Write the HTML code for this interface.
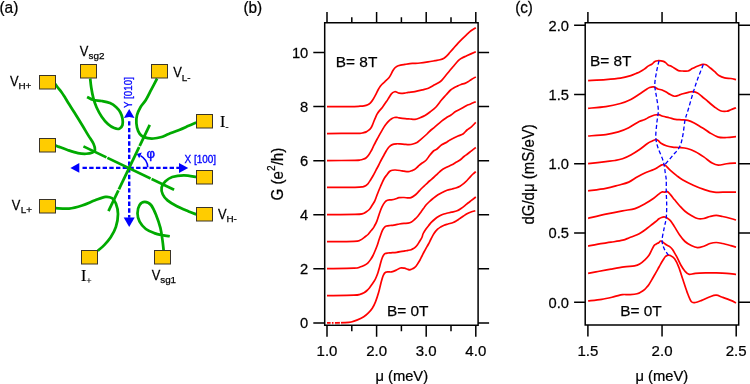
<!DOCTYPE html><html><head><meta charset="utf-8"><style>html,body{margin:0;padding:0;background:#fff;width:750px;height:384px;overflow:hidden}svg{display:block}text{font-family:"Liberation Sans",sans-serif;filter:opacity(1);stroke:#000;stroke-width:0.25px}</style></head><body>
<svg width="750" height="384" viewBox="0 0 750 384">
<rect width="750" height="384" fill="#fff"/>
<text transform="translate(-0.60,12.60) scale(0.94,1)" font-size="16.5">(a)</text>
<text transform="translate(243.40,13.40) scale(0.93,1)" font-size="16.5">(b)</text>
<text transform="translate(515.20,13.10) scale(0.92,1)" font-size="16.5">(c)</text>
<g stroke="#000" stroke-width="1.5" fill="none" stroke-linecap="butt">
<path d="M324.7,22.7 H478.1 V325.35 H324.7 Z"/>
<path d="M327.00,22.7 V12.00 M327.00,325.35 V336.75"/>
<path d="M351.80,22.7 V17.20 M351.80,325.35 V331.35"/>
<path d="M376.60,22.7 V12.00 M376.60,325.35 V336.75"/>
<path d="M401.40,22.7 V17.20 M401.40,325.35 V331.35"/>
<path d="M426.20,22.7 V12.00 M426.20,325.35 V336.75"/>
<path d="M451.00,22.7 V17.20 M451.00,325.35 V331.35"/>
<path d="M475.80,22.7 V12.00 M475.80,325.35 V336.75"/>
<path d="M324.7,322.90 H313.30 M478.1,322.90 H489.10"/>
<path d="M324.7,268.82 H313.30 M478.1,268.82 H489.10"/>
<path d="M324.7,214.74 H313.30 M478.1,214.74 H489.10"/>
<path d="M324.7,160.66 H313.30 M478.1,160.66 H489.10"/>
<path d="M324.7,106.58 H313.30 M478.1,106.58 H489.10"/>
<path d="M324.7,52.50 H313.30 M478.1,52.50 H489.10"/>
</g>
<text transform="translate(308.30,328.10) scale(0.95,1)" font-size="15.5" text-anchor="end">0</text>
<text transform="translate(308.30,274.02) scale(0.95,1)" font-size="15.5" text-anchor="end">2</text>
<text transform="translate(308.30,219.94) scale(0.95,1)" font-size="15.5" text-anchor="end">4</text>
<text transform="translate(308.30,165.86) scale(0.95,1)" font-size="15.5" text-anchor="end">6</text>
<text transform="translate(308.30,111.78) scale(0.95,1)" font-size="15.5" text-anchor="end">8</text>
<text transform="translate(308.30,57.70) scale(0.95,1)" font-size="15.5" text-anchor="end">10</text>
<text transform="translate(327.00,356.00) scale(0.97,1)" font-size="15.5" text-anchor="middle">1.0</text>
<text transform="translate(376.60,356.00) scale(0.97,1)" font-size="15.5" text-anchor="middle">2.0</text>
<text transform="translate(426.20,356.00) scale(0.97,1)" font-size="15.5" text-anchor="middle">3.0</text>
<text transform="translate(475.80,356.00) scale(0.97,1)" font-size="15.5" text-anchor="middle">4.0</text>
<text transform="translate(375.40,380.50) scale(0.97,1)" font-size="15.2">μ (meV)</text>
<text transform="translate(282.9,200.5) rotate(-90) scale(0.92,1)" font-size="16.5">G (e<tspan font-size="11" dy="-7.5">2</tspan><tspan dy="7.5">/h)</tspan></text>
<text transform="translate(335.80,67.00)" font-size="15.4">B= 8T</text>
<text transform="translate(387.00,315.80)" font-size="15.4">B= 0T</text>
<g stroke="#f00" stroke-width="1.7" fill="none" stroke-linejoin="round" stroke-linecap="butt">
<path d="M327.00,322.90 C330.00,322.85 340.96,322.75 345.00,322.60 C349.04,322.45 349.17,322.45 351.25,322.00 C353.33,321.55 355.42,320.77 357.50,319.90 C359.58,319.03 361.93,317.97 363.75,316.80 C365.57,315.63 366.97,314.33 368.40,312.90 C369.82,311.47 371.12,310.03 372.30,308.20 C373.48,306.37 374.45,304.50 375.50,301.90 C376.55,299.30 377.70,295.72 378.60,292.60 C379.50,289.48 380.12,286.07 380.90,283.20 C381.68,280.33 382.52,277.22 383.30,275.40 C384.08,273.57 384.69,272.83 385.60,272.25 C386.51,271.67 387.75,271.96 388.75,271.90 C389.75,271.84 390.44,272.15 391.60,271.90 C392.76,271.65 394.23,271.05 395.70,270.40 C397.17,269.75 398.93,268.37 400.40,268.00 C401.87,267.63 403.40,268.03 404.50,268.20 C405.60,268.37 406.12,268.72 407.00,269.00 C407.88,269.28 408.97,269.90 409.80,269.90 C410.63,269.90 411.30,269.32 412.00,269.00 C412.70,268.68 413.33,268.47 414.00,268.00 C414.67,267.53 415.33,266.98 416.00,266.20 C416.67,265.42 417.33,264.33 418.00,263.30 C418.67,262.27 419.33,261.22 420.00,260.00 C420.67,258.78 421.33,257.33 422.00,256.00 C422.67,254.67 423.33,253.28 424.00,252.00 C424.67,250.72 425.25,249.63 426.00,248.30 C426.75,246.97 427.67,245.55 428.50,244.00 C429.33,242.45 430.08,240.75 431.00,239.00 C431.92,237.25 432.90,235.13 434.00,233.50 C435.10,231.87 436.43,230.32 437.60,229.20 C438.77,228.08 439.92,227.47 441.00,226.80 C442.08,226.13 442.93,225.67 444.10,225.20 C445.27,224.73 446.48,224.45 448.00,224.00 C449.52,223.55 451.78,223.03 453.20,222.50 C454.62,221.97 455.42,221.45 456.50,220.80 C457.58,220.15 458.53,219.40 459.70,218.60 C460.87,217.80 462.20,216.85 463.50,216.00 C464.80,215.15 466.25,214.17 467.50,213.50 C468.75,212.83 469.70,212.45 471.00,212.00 C472.30,211.55 474.58,211.00 475.30,210.80"/>
<path d="M327.00,295.60 C331.50,295.53 348.50,295.42 354.00,295.20 C359.50,294.98 358.33,294.70 360.00,294.30 C361.67,293.90 362.83,293.43 364.00,292.80 C365.17,292.17 366.07,291.35 367.00,290.50 C367.93,289.65 368.72,288.78 369.60,287.70 C370.48,286.62 371.43,285.25 372.30,284.00 C373.17,282.75 374.10,281.45 374.80,280.20 C375.50,278.95 375.97,277.78 376.50,276.50 C377.03,275.22 377.53,273.92 378.00,272.50 C378.47,271.08 378.88,269.50 379.30,268.00 C379.72,266.50 380.05,265.08 380.50,263.50 C380.95,261.92 381.50,259.87 382.00,258.50 C382.50,257.13 382.97,256.13 383.50,255.30 C384.03,254.47 384.45,253.88 385.20,253.50 C385.95,253.12 387.03,253.12 388.00,253.00 C388.97,252.88 389.55,252.92 391.00,252.80 C392.45,252.68 394.88,252.53 396.70,252.30 C398.52,252.07 400.52,251.63 401.90,251.40 C403.28,251.17 403.98,251.07 405.00,250.90 C406.02,250.73 406.97,250.60 408.00,250.40 C409.03,250.20 410.28,250.00 411.20,249.70 C412.12,249.40 412.80,249.02 413.50,248.60 C414.20,248.18 414.73,247.83 415.40,247.20 C416.07,246.57 416.82,245.75 417.50,244.80 C418.18,243.85 418.77,242.72 419.50,241.50 C420.23,240.28 421.28,238.83 421.90,237.50 C422.52,236.17 422.52,234.92 423.20,233.50 C423.88,232.08 425.12,230.28 426.00,229.00 C426.88,227.72 427.67,226.85 428.50,225.80 C429.33,224.75 429.92,223.83 431.00,222.70 C432.08,221.57 433.68,220.07 435.00,219.00 C436.32,217.93 437.65,217.05 438.90,216.30 C440.15,215.55 441.20,215.00 442.50,214.50 C443.80,214.00 445.20,213.68 446.70,213.30 C448.20,212.92 449.77,212.62 451.50,212.20 C453.23,211.78 455.52,211.42 457.10,210.80 C458.68,210.18 459.70,209.37 461.00,208.50 C462.30,207.63 463.73,206.52 464.90,205.60 C466.07,204.68 466.92,203.87 468.00,203.00 C469.08,202.13 470.10,201.40 471.40,200.40 C472.70,199.40 475.07,197.57 475.80,197.00"/>
<path d="M327.00,268.60 C331.50,268.53 348.50,268.47 354.00,268.20 C359.50,267.93 358.25,267.50 360.00,267.00 C361.75,266.50 363.17,265.90 364.50,265.20 C365.83,264.50 366.95,263.80 368.00,262.80 C369.05,261.80 369.97,260.42 370.80,259.20 C371.63,257.98 372.30,256.87 373.00,255.50 C373.70,254.13 374.33,252.58 375.00,251.00 C375.67,249.42 376.42,247.58 377.00,246.00 C377.58,244.42 377.95,243.17 378.50,241.50 C379.05,239.83 379.67,237.82 380.30,236.00 C380.93,234.18 381.60,232.07 382.30,230.60 C383.00,229.13 383.80,227.97 384.50,227.20 C385.20,226.43 385.58,226.28 386.50,226.00 C387.42,225.72 388.95,225.62 390.00,225.50 C391.05,225.38 391.80,225.43 392.80,225.30 C393.80,225.17 394.92,224.92 396.00,224.70 C397.08,224.48 397.97,224.22 399.30,224.00 C400.63,223.78 402.55,223.53 404.00,223.40 C405.45,223.27 406.83,223.38 408.00,223.20 C409.17,223.02 409.92,222.92 411.00,222.30 C412.08,221.68 413.33,220.55 414.50,219.50 C415.67,218.45 416.92,217.25 418.00,216.00 C419.08,214.75 420.08,213.25 421.00,212.00 C421.92,210.75 422.67,209.67 423.50,208.50 C424.33,207.33 425.08,206.08 426.00,205.00 C426.92,203.92 427.83,203.08 429.00,202.00 C430.17,200.92 431.50,199.70 433.00,198.50 C434.50,197.30 436.21,195.92 438.00,194.80 C439.79,193.68 442.25,192.55 443.75,191.80 C445.25,191.05 445.62,190.77 447.00,190.30 C448.38,189.83 450.53,189.38 452.00,189.00 C453.47,188.62 454.47,188.47 455.80,188.00 C457.13,187.53 458.70,186.93 460.00,186.20 C461.30,185.47 462.43,184.55 463.60,183.60 C464.77,182.65 465.88,181.63 467.00,180.50 C468.12,179.37 469.30,177.88 470.30,176.80 C471.30,175.72 472.08,174.87 473.00,174.00 C473.92,173.13 475.33,172.00 475.80,171.60"/>
<path d="M327.00,241.60 C331.50,241.57 348.50,241.63 354.00,241.40 C359.50,241.17 358.13,240.98 360.00,240.20 C361.87,239.42 363.87,237.65 365.20,236.70 C366.53,235.75 367.13,235.37 368.00,234.50 C368.87,233.63 369.65,232.42 370.40,231.50 C371.15,230.58 371.85,229.87 372.50,229.00 C373.15,228.13 373.57,227.62 374.30,226.30 C375.03,224.98 376.03,223.28 376.90,221.10 C377.77,218.92 378.63,215.60 379.50,213.20 C380.37,210.80 381.22,208.53 382.10,206.70 C382.98,204.87 383.92,203.27 384.80,202.20 C385.68,201.13 386.32,200.70 387.40,200.30 C388.48,199.90 390.00,200.02 391.30,199.80 C392.60,199.58 393.90,199.35 395.20,199.00 C396.50,198.65 397.63,197.95 399.10,197.70 C400.57,197.45 402.52,197.47 404.00,197.50 C405.48,197.53 406.83,197.88 408.00,197.90 C409.17,197.92 409.92,198.00 411.00,197.60 C412.08,197.20 413.42,196.30 414.50,195.50 C415.58,194.70 416.42,193.88 417.50,192.80 C418.58,191.72 419.62,190.38 421.00,189.00 C422.38,187.62 424.38,185.83 425.80,184.50 C427.22,183.17 428.20,182.17 429.50,181.00 C430.80,179.83 432.27,178.70 433.60,177.50 C434.93,176.30 436.18,175.02 437.50,173.80 C438.82,172.58 440.08,171.23 441.50,170.20 C442.92,169.17 444.27,168.50 446.00,167.60 C447.73,166.70 450.23,165.68 451.90,164.80 C453.57,163.92 454.58,163.15 456.00,162.30 C457.42,161.45 459.07,160.67 460.40,159.70 C461.73,158.73 462.82,157.45 464.00,156.50 C465.18,155.55 466.25,154.95 467.50,154.00 C468.75,153.05 470.12,151.88 471.50,150.80 C472.88,149.72 475.08,148.05 475.80,147.50"/>
<path d="M327.00,214.60 C331.67,214.57 349.03,214.55 355.00,214.40 C360.97,214.25 360.97,214.10 362.80,213.70 C364.63,213.30 364.92,212.70 366.00,212.00 C367.08,211.30 368.30,210.58 369.30,209.50 C370.30,208.42 371.13,206.83 372.00,205.50 C372.87,204.17 373.75,203.00 374.50,201.50 C375.25,200.00 375.85,198.17 376.50,196.50 C377.15,194.83 377.73,193.17 378.40,191.50 C379.07,189.83 379.85,188.03 380.50,186.50 C381.15,184.97 381.63,183.72 382.30,182.30 C382.97,180.88 383.80,179.17 384.50,178.00 C385.20,176.83 385.67,176.38 386.50,175.30 C387.33,174.22 388.50,172.35 389.50,171.50 C390.50,170.65 391.52,170.45 392.50,170.20 C393.48,169.95 394.15,169.95 395.40,170.00 C396.65,170.05 398.57,170.30 400.00,170.50 C401.43,170.70 402.62,171.00 404.00,171.20 C405.38,171.40 407.05,171.77 408.30,171.70 C409.55,171.63 410.47,171.17 411.50,170.80 C412.53,170.43 413.42,170.22 414.50,169.50 C415.58,168.78 416.83,167.50 418.00,166.50 C419.17,165.50 420.20,164.50 421.50,163.50 C422.80,162.50 424.38,161.92 425.80,160.50 C427.22,159.08 428.72,156.58 430.00,155.00 C431.28,153.42 432.33,152.00 433.50,151.00 C434.67,150.00 435.63,150.03 437.00,149.00 C438.37,147.97 440.08,145.93 441.70,144.80 C443.32,143.67 445.32,143.00 446.70,142.20 C448.08,141.40 448.12,141.03 450.00,140.00 C451.88,138.97 455.83,137.00 458.00,136.00 C460.17,135.00 461.50,135.00 463.00,134.00 C464.50,133.00 465.60,131.20 467.00,130.00 C468.40,128.80 469.93,128.07 471.40,126.80 C472.87,125.53 475.07,123.13 475.80,122.40"/>
<path d="M327.00,187.40 C331.67,187.40 349.03,187.50 355.00,187.40 C360.97,187.30 360.97,187.12 362.80,186.80 C364.63,186.48 365.13,186.00 366.00,185.50 C366.87,185.00 367.25,184.72 368.00,183.80 C368.75,182.88 369.63,181.38 370.50,180.00 C371.37,178.62 372.28,177.13 373.20,175.50 C374.12,173.87 375.12,171.87 376.00,170.20 C376.88,168.53 377.58,167.28 378.50,165.50 C379.42,163.72 380.58,161.25 381.50,159.50 C382.42,157.75 383.17,156.50 384.00,155.00 C384.83,153.50 385.67,151.83 386.50,150.50 C387.33,149.17 388.03,147.98 389.00,147.00 C389.97,146.02 391.05,145.13 392.30,144.60 C393.55,144.07 395.22,143.92 396.50,143.80 C397.78,143.68 398.67,143.82 400.00,143.90 C401.33,143.98 403.00,144.18 404.50,144.30 C406.00,144.42 407.58,144.65 409.00,144.60 C410.42,144.55 411.67,144.35 413.00,144.00 C414.33,143.65 415.73,143.23 417.00,142.50 C418.27,141.77 418.93,141.02 420.60,139.60 C422.27,138.18 425.27,135.60 427.00,134.00 C428.73,132.40 429.77,131.12 431.00,130.00 C432.23,128.88 432.63,128.77 434.40,127.30 C436.17,125.83 439.67,122.75 441.60,121.20 C443.53,119.65 444.43,119.03 446.00,118.00 C447.57,116.97 449.33,116.12 451.00,115.00 C452.67,113.88 454.12,112.47 456.00,111.30 C457.88,110.13 460.52,108.97 462.30,108.00 C464.08,107.03 465.40,106.13 466.70,105.50 C468.00,104.87 468.58,104.83 470.10,104.20 C471.62,103.57 474.85,102.12 475.80,101.70"/>
<path d="M327.00,160.60 C331.67,160.57 349.50,160.50 355.00,160.40 C360.50,160.30 358.67,160.18 360.00,160.00 C361.33,159.82 361.96,159.68 363.00,159.30 C364.04,158.92 365.33,158.37 366.25,157.70 C367.17,157.03 367.73,156.35 368.50,155.30 C369.27,154.25 370.12,152.82 370.90,151.40 C371.68,149.98 372.42,148.37 373.20,146.80 C373.98,145.23 374.80,143.53 375.60,142.00 C376.40,140.47 377.22,139.03 378.00,137.60 C378.78,136.17 379.53,134.77 380.30,133.40 C381.07,132.03 381.82,130.70 382.60,129.40 C383.38,128.10 384.22,126.73 385.00,125.60 C385.78,124.47 386.52,123.50 387.30,122.60 C388.08,121.70 388.92,120.88 389.70,120.20 C390.48,119.52 391.22,118.95 392.00,118.50 C392.78,118.05 393.60,117.68 394.40,117.50 C395.20,117.32 396.03,117.35 396.80,117.40 C397.57,117.45 397.58,117.60 399.00,117.80 C400.42,118.00 403.47,118.40 405.30,118.60 C407.13,118.80 408.38,118.87 410.00,119.00 C411.62,119.13 413.23,119.65 415.00,119.40 C416.77,119.15 418.93,118.15 420.60,117.50 C422.27,116.85 423.43,116.42 425.00,115.50 C426.57,114.58 428.17,113.42 430.00,112.00 C431.83,110.58 434.08,109.00 436.00,107.00 C437.92,105.00 439.83,102.00 441.50,100.00 C443.17,98.00 444.48,96.67 446.00,95.00 C447.52,93.33 449.27,91.20 450.60,90.00 C451.93,88.80 452.92,88.43 454.00,87.80 C455.08,87.17 455.93,86.75 457.10,86.20 C458.27,85.65 459.70,84.97 461.00,84.50 C462.30,84.03 463.73,83.85 464.90,83.40 C466.07,82.95 466.92,82.45 468.00,81.80 C469.08,81.15 470.10,80.32 471.40,79.50 C472.70,78.68 475.07,77.33 475.80,76.90"/>
<path d="M327.00,133.60 C331.67,133.55 349.50,133.33 355.00,133.30 C360.50,133.27 358.67,133.48 360.00,133.40 C361.33,133.32 361.96,133.05 363.00,132.80 C364.04,132.55 365.28,132.33 366.25,131.90 C367.22,131.47 368.03,130.85 368.80,130.20 C369.57,129.55 370.28,128.90 370.90,128.00 C371.52,127.10 371.98,125.97 372.50,124.80 C373.02,123.63 373.48,122.25 374.00,121.00 C374.52,119.75 375.07,118.48 375.60,117.30 C376.13,116.12 376.55,115.02 377.20,113.90 C377.85,112.78 378.65,111.68 379.50,110.60 C380.35,109.52 381.15,108.90 382.30,107.40 C383.45,105.90 385.28,103.25 386.40,101.60 C387.52,99.95 388.13,98.83 389.00,97.50 C389.87,96.17 390.65,94.57 391.60,93.60 C392.55,92.63 393.80,91.93 394.70,91.70 C395.60,91.47 396.25,91.95 397.00,92.20 C397.75,92.45 397.95,93.05 399.20,93.20 C400.45,93.35 402.98,93.25 404.50,93.10 C406.02,92.95 406.57,92.55 408.30,92.30 C410.03,92.05 412.47,92.02 414.90,91.60 C417.33,91.18 420.65,90.35 422.90,89.80 C425.15,89.25 426.67,89.00 428.40,88.30 C430.13,87.60 431.55,86.57 433.30,85.60 C435.05,84.63 437.50,83.37 438.90,82.50 C440.30,81.63 440.40,81.77 441.70,80.40 C443.00,79.03 445.32,75.98 446.70,74.30 C448.08,72.62 448.92,71.60 450.00,70.30 C451.08,69.00 451.82,68.12 453.20,66.50 C454.58,64.88 456.83,62.02 458.30,60.60 C459.77,59.18 460.60,58.80 462.00,58.00 C463.40,57.20 464.40,56.85 466.70,55.80 C469.00,54.75 474.28,52.38 475.80,51.70"/>
<path d="M327.00,106.60 C330.83,106.60 344.50,106.67 350.00,106.60 C355.50,106.53 357.67,106.33 360.00,106.20 C362.33,106.07 362.70,106.05 364.00,105.80 C365.30,105.55 366.72,105.20 367.80,104.70 C368.88,104.20 369.72,103.53 370.50,102.80 C371.28,102.07 371.65,101.63 372.50,100.30 C373.35,98.97 374.68,96.52 375.60,94.80 C376.52,93.08 377.22,91.42 378.00,90.00 C378.78,88.58 379.55,87.28 380.30,86.25 C381.05,85.22 381.72,84.58 382.50,83.80 C383.28,83.02 383.93,82.62 385.00,81.60 C386.07,80.58 387.90,78.92 388.90,77.70 C389.90,76.48 390.35,75.45 391.00,74.30 C391.65,73.15 392.17,71.85 392.80,70.80 C393.43,69.75 394.15,68.73 394.80,68.00 C395.45,67.27 395.73,66.87 396.70,66.40 C397.67,65.93 399.22,65.53 400.60,65.20 C401.98,64.87 403.43,64.67 405.00,64.40 C406.57,64.13 408.50,63.77 410.00,63.60 C411.50,63.43 412.33,63.50 414.00,63.40 C415.67,63.30 417.67,63.25 420.00,63.00 C422.33,62.75 425.50,62.28 428.00,61.90 C430.50,61.52 433.00,61.05 435.00,60.70 C437.00,60.35 438.50,60.22 440.00,59.80 C441.50,59.38 442.83,58.88 444.00,58.20 C445.17,57.52 446.00,56.68 447.00,55.70 C448.00,54.72 448.83,53.63 450.00,52.30 C451.17,50.97 452.62,49.27 454.00,47.70 C455.38,46.13 456.88,44.42 458.30,42.90 C459.72,41.38 461.10,39.98 462.50,38.60 C463.90,37.22 465.28,35.90 466.70,34.60 C468.12,33.30 469.48,31.93 471.00,30.80 C472.52,29.67 475.00,28.30 475.80,27.80"/>
</g>
<g fill="#fff"><rect x="330.6" y="321.5" width="1.3" height="2.8"/><rect x="333.5" y="321.5" width="1.4" height="2.8"/><rect x="339.9" y="321.5" width="1.1" height="2.8"/></g>
<g stroke="#000" stroke-width="1.5" fill="none">
<path d="M585.2,22.7 H738.7 V325.0 H585.2 Z"/>
<path d="M587.90,22.7 V12.00 M587.90,325.0 V336.50"/>
<path d="M662.05,22.7 V12.00 M662.05,325.0 V336.50"/>
<path d="M736.20,22.7 V12.00 M736.20,325.0 V336.50"/>
<path d="M585.2,302.30 H574.10 M738.7,302.30 H750.70"/>
<path d="M585.2,233.05 H574.10 M738.7,233.05 H750.70"/>
<path d="M585.2,163.80 H574.10 M738.7,163.80 H750.70"/>
<path d="M585.2,94.55 H574.10 M738.7,94.55 H750.70"/>
<path d="M585.2,25.30 H574.10 M738.7,25.30 H750.70"/>
</g>
<text transform="translate(569.00,307.50) scale(0.95,1)" font-size="15.5" text-anchor="end">0.0</text>
<text transform="translate(569.00,238.25) scale(0.95,1)" font-size="15.5" text-anchor="end">0.5</text>
<text transform="translate(569.00,169.00) scale(0.95,1)" font-size="15.5" text-anchor="end">1.0</text>
<text transform="translate(569.00,99.75) scale(0.95,1)" font-size="15.5" text-anchor="end">1.5</text>
<text transform="translate(569.00,30.50) scale(0.95,1)" font-size="15.5" text-anchor="end">2.0</text>
<text transform="translate(587.90,356.00) scale(0.97,1)" font-size="15.5" text-anchor="middle">1.5</text>
<text transform="translate(662.05,356.00) scale(0.97,1)" font-size="15.5" text-anchor="middle">2.0</text>
<text transform="translate(736.20,356.00) scale(0.97,1)" font-size="15.5" text-anchor="middle">2.5</text>
<text transform="translate(635.50,380.50) scale(0.97,1)" font-size="15.2">μ (meV)</text>
<text transform="translate(533.6,224.6) rotate(-90) scale(0.91,1)" font-size="16.5">dG/dμ (mS/eV)</text>
<text transform="translate(590.00,66.00)" font-size="15.4">B= 8T</text>
<text transform="translate(620.20,316.30)" font-size="15.4">B= 0T</text>
<g stroke="#f00" stroke-width="1.7" fill="none" stroke-linejoin="round" stroke-linecap="butt">
<path d="M588.10,301.00 C590.37,300.73 597.35,300.12 601.70,299.40 C606.05,298.68 610.73,297.50 614.20,296.70 C617.67,295.90 620.08,294.95 622.50,294.60 C624.92,294.25 626.32,294.74 628.75,294.60 C631.18,294.46 634.68,294.43 637.10,293.75 C639.52,293.07 641.73,291.54 643.30,290.50 C644.87,289.46 645.58,288.45 646.50,287.50 C647.42,286.55 647.75,286.38 648.80,284.80 C649.85,283.22 651.68,279.92 652.80,278.00 C653.92,276.08 654.63,274.82 655.50,273.30 C656.37,271.78 657.17,270.40 658.00,268.90 C658.83,267.40 659.63,265.82 660.50,264.30 C661.37,262.78 662.42,261.05 663.20,259.80 C663.98,258.55 664.52,257.55 665.20,256.80 C665.88,256.05 666.43,255.50 667.30,255.30 C668.17,255.10 669.18,255.03 670.40,255.60 C671.62,256.18 673.21,256.83 674.60,258.75 C675.99,260.67 677.37,263.62 678.75,267.10 C680.13,270.58 681.51,275.43 682.90,279.60 C684.29,283.77 685.71,288.45 687.10,292.10 C688.49,295.75 689.87,299.77 691.25,301.50 C692.63,303.23 693.66,302.68 695.40,302.50 C697.14,302.32 699.27,301.37 701.70,300.40 C704.13,299.43 707.58,297.57 710.00,296.70 C712.42,295.83 714.17,295.10 716.25,295.20 C718.33,295.30 720.08,296.43 722.50,297.30 C724.92,298.17 728.55,299.47 730.80,300.40 C733.05,301.33 735.13,302.48 736.00,302.90"/>
<path d="M588.10,273.40 C589.75,273.08 594.18,272.22 598.00,271.50 C601.82,270.78 606.65,269.87 611.00,269.10 C615.35,268.33 620.18,267.45 624.10,266.90 C628.02,266.35 631.90,266.28 634.50,265.80 C637.10,265.32 637.97,265.00 639.70,264.00 C641.43,263.00 643.38,261.22 644.90,259.80 C646.42,258.38 647.72,257.03 648.80,255.50 C649.88,253.97 650.52,252.25 651.40,250.60 C652.28,248.95 653.33,246.67 654.10,245.60 C654.87,244.53 655.25,244.67 656.00,244.20 C656.75,243.73 657.83,243.33 658.60,242.80 C659.37,242.27 659.83,241.07 660.60,241.00 C661.37,240.93 662.38,241.85 663.20,242.40 C664.02,242.95 664.47,243.63 665.50,244.30 C666.53,244.97 668.23,245.55 669.40,246.40 C670.57,247.25 671.28,247.68 672.50,249.40 C673.72,251.12 675.32,254.10 676.70,256.70 C678.08,259.30 679.42,262.57 680.80,265.00 C682.18,267.43 683.60,269.68 685.00,271.25 C686.40,272.82 687.47,274.06 689.20,274.40 C690.93,274.74 692.63,273.55 695.40,273.30 C698.17,273.05 702.32,272.97 705.80,272.90 C709.27,272.83 712.77,272.83 716.25,272.90 C719.73,272.97 723.41,273.05 726.70,273.30 C729.99,273.55 734.45,274.22 736.00,274.40"/>
<path d="M588.10,246.10 C589.75,245.77 594.18,244.75 598.00,244.10 C601.82,243.45 606.87,242.85 611.00,242.20 C615.13,241.55 619.75,240.95 622.80,240.20 C625.85,239.45 626.92,238.60 629.30,237.70 C631.68,236.80 634.98,235.75 637.10,234.80 C639.22,233.85 640.27,233.13 642.00,232.00 C643.73,230.87 645.83,229.25 647.50,228.00 C649.17,226.75 650.62,225.58 652.00,224.50 C653.38,223.42 654.63,222.45 655.80,221.50 C656.97,220.55 658.05,219.47 659.00,218.80 C659.95,218.13 660.67,217.83 661.50,217.50 C662.33,217.17 663.21,216.82 664.00,216.80 C664.79,216.78 665.18,216.77 666.25,217.40 C667.32,218.03 669.01,219.02 670.40,220.60 C671.79,222.18 673.03,224.47 674.60,226.90 C676.17,229.33 678.07,232.77 679.80,235.20 C681.53,237.63 683.09,239.77 685.00,241.50 C686.91,243.23 689.17,244.57 691.25,245.60 C693.33,246.63 695.42,247.59 697.50,247.70 C699.58,247.81 701.67,246.95 703.75,246.25 C705.83,245.55 707.92,244.12 710.00,243.50 C712.08,242.88 714.17,242.50 716.25,242.50 C718.33,242.50 720.08,242.98 722.50,243.50 C724.92,244.02 728.55,245.00 730.80,245.60 C733.05,246.20 735.13,246.85 736.00,247.10"/>
<path d="M588.10,218.30 C591.05,217.62 600.07,215.45 605.80,214.20 C611.53,212.95 617.63,211.73 622.50,210.80 C627.37,209.87 631.18,209.82 635.00,208.60 C638.82,207.38 642.27,205.22 645.40,203.50 C648.52,201.78 651.32,200.03 653.75,198.30 C656.18,196.57 658.54,194.18 660.00,193.10 C661.46,192.02 661.75,191.95 662.50,191.80 C663.25,191.65 663.70,192.23 664.50,192.20 C665.30,192.17 666.32,191.20 667.30,191.60 C668.28,192.00 669.18,193.23 670.40,194.60 C671.62,195.97 673.03,197.90 674.60,199.80 C676.17,201.70 678.07,204.09 679.80,206.00 C681.53,207.91 683.09,209.68 685.00,211.25 C686.91,212.82 689.17,214.19 691.25,215.40 C693.33,216.61 695.42,217.98 697.50,218.50 C699.58,219.02 701.67,218.83 703.75,218.50 C705.83,218.17 707.92,217.02 710.00,216.50 C712.08,215.98 714.17,215.40 716.25,215.40 C718.33,215.40 720.08,215.98 722.50,216.50 C724.92,217.02 728.55,217.92 730.80,218.50 C733.05,219.08 735.13,219.75 736.00,220.00"/>
<path d="M588.10,190.80 C591.05,190.38 600.77,189.23 605.80,188.30 C610.83,187.37 614.47,186.23 618.30,185.20 C622.12,184.17 625.62,183.47 628.75,182.10 C631.88,180.73 634.33,178.57 637.10,177.00 C639.88,175.43 642.62,173.93 645.40,172.70 C648.17,171.47 651.48,170.63 653.75,169.60 C656.02,168.57 657.61,167.30 659.00,166.50 C660.39,165.70 661.07,165.02 662.10,164.80 C663.13,164.58 663.82,164.27 665.20,165.20 C666.58,166.13 668.48,168.67 670.40,170.40 C672.32,172.13 674.62,174.00 676.70,175.60 C678.78,177.20 680.13,178.40 682.90,180.00 C685.67,181.60 689.82,183.63 693.30,185.20 C696.77,186.77 700.27,188.25 703.75,189.40 C707.23,190.55 710.38,191.65 714.20,192.10 C718.03,192.55 723.07,192.10 726.70,192.10 C730.33,192.10 734.45,192.10 736.00,192.10"/>
<path d="M588.10,163.60 C591.05,163.27 601.32,162.12 605.80,161.60 C610.28,161.08 612.22,160.97 615.00,160.50 C617.78,160.03 619.87,159.72 622.50,158.80 C625.13,157.88 628.02,156.50 630.80,155.00 C633.58,153.50 636.42,151.72 639.20,149.80 C641.98,147.88 645.42,144.93 647.50,143.50 C649.58,142.07 650.32,141.85 651.70,141.20 C653.08,140.55 654.72,139.72 655.80,139.60 C656.88,139.48 657.33,139.88 658.20,140.50 C659.07,141.12 659.66,142.42 661.00,143.30 C662.34,144.18 664.33,145.17 666.25,145.80 C668.17,146.43 670.42,146.82 672.50,147.10 C674.58,147.38 676.32,147.27 678.75,147.50 C681.18,147.73 684.33,147.80 687.10,148.50 C689.88,149.20 692.62,150.30 695.40,151.70 C698.17,153.10 700.97,155.00 703.75,156.90 C706.53,158.80 709.68,161.72 712.10,163.10 C714.52,164.48 715.87,165.09 718.30,165.20 C720.73,165.31 723.75,164.10 726.70,163.75 C729.65,163.40 734.45,163.21 736.00,163.10"/>
<path d="M588.10,136.00 C591.05,135.77 600.77,135.28 605.80,134.60 C610.83,133.92 614.47,133.05 618.30,131.90 C622.12,130.75 625.27,129.43 628.75,127.70 C632.23,125.97 636.62,122.82 639.20,121.50 C641.78,120.18 642.50,120.53 644.20,119.80 C645.90,119.07 647.67,117.90 649.40,117.10 C651.13,116.30 653.04,115.42 654.60,115.00 C656.16,114.58 657.37,114.39 658.75,114.60 C660.13,114.81 661.16,115.73 662.90,116.25 C664.64,116.77 667.12,117.17 669.20,117.70 C671.28,118.23 673.32,119.05 675.40,119.40 C677.48,119.75 679.62,119.63 681.70,119.80 C683.78,119.97 685.82,119.88 687.90,120.40 C689.98,120.92 692.12,121.85 694.20,122.90 C696.28,123.95 698.67,125.65 700.40,126.70 C702.13,127.75 703.00,128.17 704.60,129.20 C706.20,130.23 707.72,131.58 710.00,132.90 C712.28,134.22 715.52,136.33 718.30,137.10 C721.08,137.87 723.75,137.57 726.70,137.50 C729.65,137.43 734.45,136.83 736.00,136.70"/>
<path d="M588.10,108.30 C591.05,108.03 600.42,107.50 605.80,106.70 C611.18,105.90 616.23,104.72 620.40,103.50 C624.57,102.28 627.67,100.95 630.80,99.40 C633.93,97.85 636.77,95.77 639.20,94.20 C641.63,92.63 643.67,91.12 645.40,90.00 C647.13,88.88 648.21,88.02 649.60,87.50 C650.99,86.98 652.37,86.65 653.75,86.90 C655.13,87.15 656.51,88.48 657.90,89.00 C659.29,89.52 660.71,89.48 662.10,90.00 C663.49,90.52 664.87,91.33 666.25,92.10 C667.63,92.87 669.01,93.91 670.40,94.60 C671.79,95.29 673.21,96.15 674.60,96.25 C675.99,96.35 677.37,95.62 678.75,95.20 C680.13,94.78 681.16,94.27 682.90,93.75 C684.64,93.23 687.47,92.44 689.20,92.10 C690.93,91.76 691.92,91.53 693.30,91.70 C694.68,91.87 696.10,92.34 697.50,93.10 C698.90,93.86 699.97,94.85 701.70,96.25 C703.43,97.65 705.82,99.76 707.90,101.50 C709.98,103.24 712.12,105.15 714.20,106.70 C716.28,108.25 718.32,110.04 720.40,110.80 C722.48,111.56 724.97,111.42 726.70,111.25 C728.43,111.08 729.25,110.39 730.80,109.80 C732.35,109.21 735.13,108.05 736.00,107.70"/>
<path d="M588.10,80.60 C591.05,80.43 600.42,80.02 605.80,79.60 C611.18,79.18 616.23,78.77 620.40,78.10 C624.57,77.43 628.20,76.37 630.80,75.60 C633.40,74.83 634.47,74.15 636.00,73.50 C637.53,72.85 638.62,72.43 640.00,71.70 C641.38,70.97 642.88,70.07 644.30,69.10 C645.72,68.13 647.27,66.70 648.50,65.90 C649.73,65.10 650.63,65.03 651.70,64.30 C652.77,63.57 653.83,62.10 654.90,61.50 C655.97,60.90 657.08,60.82 658.10,60.70 C659.12,60.58 660.10,60.68 661.00,60.80 C661.90,60.92 662.73,61.08 663.50,61.40 C664.27,61.72 664.80,62.07 665.60,62.70 C666.40,63.33 667.42,64.65 668.30,65.20 C669.18,65.75 669.93,65.53 670.90,66.00 C671.87,66.47 672.85,67.23 674.10,68.00 C675.35,68.77 676.97,70.10 678.40,70.60 C679.83,71.10 681.10,70.93 682.70,71.00 C684.30,71.07 686.58,71.30 688.00,71.00 C689.42,70.70 689.95,69.88 691.20,69.20 C692.45,68.52 694.25,67.48 695.50,66.90 C696.75,66.32 697.47,66.13 698.70,65.70 C699.93,65.27 701.67,64.45 702.90,64.30 C704.13,64.15 704.85,64.18 706.10,64.80 C707.35,65.42 708.97,66.85 710.40,68.00 C711.83,69.15 713.28,70.45 714.70,71.70 C716.12,72.95 717.25,74.47 718.90,75.50 C720.55,76.53 722.62,77.40 724.60,77.90 C726.58,78.40 728.90,78.22 730.80,78.50 C732.70,78.78 735.13,79.42 736.00,79.60"/>
</g>
<g stroke="#0000ff" stroke-width="1.3" fill="none" stroke-dasharray="4 2.5">
<path d="M659.00,60.80 C658.58,62.67 657.20,68.00 656.50,72.00 C655.80,76.00 654.80,80.63 654.80,84.80 C654.80,88.97 655.92,92.80 656.50,97.00 C657.08,101.20 658.23,105.75 658.30,110.00 C658.37,114.25 657.32,117.98 656.90,122.50 C656.48,127.02 655.63,132.93 655.80,137.10 C655.97,141.27 656.85,144.03 657.90,147.50 C658.95,150.97 661.05,154.95 662.10,157.90 C663.15,160.85 663.68,162.77 664.20,165.20 C664.72,167.63 664.86,170.03 665.20,172.50 C665.54,174.97 666.08,176.67 666.25,180.00 C666.42,183.33 666.17,188.33 666.25,192.50 C666.33,196.67 666.70,200.83 666.70,205.00 C666.70,209.17 666.67,213.68 666.25,217.50 C665.83,221.32 664.89,224.08 664.20,227.90 C663.51,231.72 662.10,236.93 662.10,240.40 C662.10,243.88 663.17,246.32 664.20,248.75 C665.23,251.18 667.62,253.96 668.30,255.00"/>
<path d="M703.30,64.60 C702.42,66.83 699.67,73.42 698.00,78.00 C696.33,82.58 694.95,86.77 693.30,92.10 C691.65,97.43 689.48,105.28 688.10,110.00 C686.72,114.72 685.87,116.23 685.00,120.40 C684.13,124.57 683.77,130.65 682.90,135.00 C682.03,139.35 681.53,143.03 679.80,146.50 C678.07,149.97 674.93,152.85 672.50,155.80 C670.07,158.75 666.42,162.80 665.20,164.20"/>
</g>
<g stroke="#0000ff" stroke-width="2.4" fill="none" stroke-dasharray="4.4 2.3">
<path d="M129.2,121.2 V217.8"/>
<path d="M82.5,167.9 H179.2"/>
</g>
<g fill="#0000ff">
<path d="M129.2,108.9 L134.5,118 L129.2,117 L123.9,118 Z"/>
<path d="M129.2,226.9 L134.7,217.6 L123.7,217.6 Z"/>
<path d="M70.4,167.9 L79.3,163 L79.3,172.8 Z"/>
<path d="M188.2,167.9 L179,162.9 L179,172.9 Z"/>
</g>
<path d="M147.7,167.2 C147.6,162.5 144.5,158 140.5,155.6" stroke="#0000ff" stroke-width="1.6" fill="none"/>
<path d="M136.8,153.9 L141.8,152.6 L139.2,158.3 Z" fill="#0000ff"/>
<text x="146.5" y="158.2" font-size="13" fill="#0000ff" style="stroke:#0000ff;stroke-width:0.45px">φ</text>
<text transform="translate(184.5,162.6) scale(0.97,1)" font-size="10.3" fill="#0000ff" style="stroke:#0000ff;stroke-width:0.3px">X [100]</text>
<text transform="translate(131.6,108.0) rotate(-90) scale(0.91,1)" font-size="10.8" fill="#0000ff" style="stroke:#0000ff;stroke-width:0.3px">Y [010]</text>
<g stroke="#00aa00" stroke-width="2.75" fill="none" stroke-linecap="butt" stroke-linejoin="round">
<path d="M90.20,78.50 C90.38,80.00 90.73,84.27 91.25,87.50 C91.77,90.73 92.42,94.60 93.30,97.90 C94.17,101.20 95.10,104.17 96.50,107.30 C97.90,110.43 99.80,113.92 101.70,116.70 C103.60,119.48 105.82,122.10 107.90,124.00 C109.98,125.90 112.28,127.31 114.20,128.10 C116.12,128.89 118.02,129.27 119.40,128.75 C120.78,128.23 121.98,126.67 122.50,125.00 C123.02,123.33 122.85,120.83 122.50,118.75 C122.15,116.67 121.44,114.41 120.40,112.50 C119.36,110.59 117.98,108.87 116.25,107.30 C114.52,105.73 112.42,104.15 110.00,103.10 C107.58,102.05 104.48,101.52 101.70,101.00 C98.92,100.48 95.73,100.68 93.30,100.00 C90.87,99.32 88.13,97.42 87.10,96.90"/>
<path d="M53.00,81.00 C53.67,81.92 55.60,84.67 57.00,86.50 C58.40,88.33 60.02,90.08 61.40,92.00 C62.78,93.92 64.03,96.00 65.30,98.00 C66.57,100.00 67.48,101.58 69.00,104.00 C70.52,106.42 72.22,109.00 74.40,112.50 C76.58,116.00 79.78,121.18 82.10,125.00 C84.42,128.82 86.40,132.28 88.30,135.40 C90.20,138.53 92.38,141.32 93.50,143.75 C94.62,146.18 95.17,148.54 95.00,150.00 C94.83,151.46 93.96,151.88 92.50,152.50 C91.04,153.12 88.68,153.65 86.25,153.75 C83.82,153.85 81.03,153.72 77.90,153.10 C74.78,152.47 70.62,151.03 67.50,150.00 C64.38,148.97 61.18,147.67 59.20,146.90 C57.22,146.13 56.20,145.65 55.60,145.40"/>
<path d="M157.10,78.50 C156.12,80.35 153.13,86.02 151.25,89.60 C149.37,93.18 147.58,97.10 145.80,100.00 C144.03,102.90 142.07,104.47 140.60,107.00 C139.13,109.53 137.70,112.47 137.00,115.20 C136.30,117.93 136.20,120.75 136.40,123.40 C136.60,126.05 137.32,129.03 138.20,131.10 C139.08,133.17 140.13,134.63 141.70,135.80 C143.27,136.97 145.65,137.65 147.60,138.10 C149.55,138.55 151.25,138.63 153.40,138.50 C155.55,138.37 157.95,138.05 160.50,137.30 C163.05,136.55 165.58,135.23 168.70,134.00 C171.82,132.77 175.88,131.27 179.20,129.90 C182.52,128.53 185.77,127.03 188.60,125.80 C191.43,124.57 194.93,123.05 196.20,122.50"/>
<path d="M196.30,177.00 C194.23,176.72 187.92,175.30 183.90,175.30 C179.88,175.30 175.32,175.95 172.20,177.00 C169.08,178.05 166.97,179.85 165.20,181.60 C163.43,183.35 162.00,185.35 161.60,187.50 C161.20,189.65 161.82,192.35 162.80,194.50 C163.78,196.65 165.15,198.44 167.50,200.40 C169.85,202.36 173.38,204.42 176.90,206.25 C180.42,208.08 185.37,210.04 188.60,211.40 C191.83,212.76 195.02,213.90 196.30,214.40"/>
<path d="M163.60,250.20 C163.42,248.57 163.03,244.12 162.50,240.40 C161.97,236.68 161.44,232.07 160.40,227.90 C159.36,223.73 157.82,219.22 156.25,215.40 C154.68,211.58 152.91,207.25 151.00,205.00 C149.09,202.75 146.70,201.90 144.80,201.90 C142.90,201.90 140.82,203.10 139.60,205.00 C138.38,206.90 137.50,210.52 137.50,213.30 C137.50,216.08 138.22,219.08 139.60,221.70 C140.98,224.32 143.37,227.10 145.80,229.00 C148.23,230.90 151.42,232.07 154.20,233.10 C156.98,234.13 159.90,234.67 162.50,235.20 C165.10,235.72 168.58,236.07 169.80,236.25"/>
<path d="M55.50,208.10 C57.75,208.18 64.57,209.03 69.00,208.60 C73.43,208.17 77.75,206.88 82.10,205.50 C86.45,204.12 91.20,201.73 95.10,200.30 C99.00,198.87 102.68,197.25 105.50,196.90 C108.32,196.55 110.27,197.12 112.00,198.20 C113.73,199.28 114.90,200.78 115.90,203.40 C116.90,206.02 118.00,209.98 118.00,213.90 C118.00,217.82 117.12,223.00 115.90,226.90 C114.68,230.80 112.65,234.27 110.70,237.30 C108.75,240.33 106.37,242.85 104.20,245.10 C102.03,247.35 98.78,249.85 97.70,250.80"/>
<path d="M83.46,146.38 L174.09,189.80"/>
<path d="M108.48,211.04 L149.74,124.91"/>
</g>
<g stroke="#fff" stroke-width="1.1" fill="none">
<path d="M107.86,155.63 L105.95,159.60"/>
<path d="M152.05,176.80 L150.14,180.77"/>
<path d="M116.65,188.89 L120.61,190.79"/>
<path d="M137.39,145.61 L141.35,147.51"/>
</g>
<g fill="#ffcc00" stroke="#3a3428" stroke-width="1">
<rect x="39.5" y="75.5" width="16" height="13.5"/>
<rect x="80.5" y="64.5" width="16" height="13.5"/>
<rect x="151.5" y="64.5" width="16" height="13.5"/>
<rect x="196.5" y="114.5" width="16" height="13.5"/>
<rect x="39.5" y="138.5" width="16" height="13.5"/>
<rect x="196.5" y="170.5" width="16" height="13.5"/>
<rect x="39.5" y="199.5" width="16" height="13.5"/>
<rect x="196.5" y="207.5" width="16" height="13.5"/>
<rect x="81.5" y="250.5" width="16" height="13.5"/>
<rect x="154.5" y="250.5" width="16" height="13.5"/>
</g>
<text transform="translate(10.00,85.60) scale(0.86,1)" font-size="15">V</text><text x="18.40" y="88.75" font-size="9.9">H+</text>
<text transform="translate(79.80,56.40) scale(0.86,1)" font-size="15">V</text><text x="88.50" y="58.90" font-size="9.9">sg2</text>
<text transform="translate(173.20,77.30) scale(0.86,1)" font-size="15">V</text><text x="181.70" y="80.50" font-size="9.9">L-</text>
<text transform="translate(11.70,210.00) scale(0.86,1)" font-size="15">V</text><text x="20.80" y="212.70" font-size="9.9">L+</text>
<text transform="translate(217.90,218.75) scale(0.86,1)" font-size="15">V</text><text x="226.40" y="221.90" font-size="9.9">H-</text>
<text transform="translate(151.75,280.00) scale(0.86,1)" font-size="15">V</text><text x="160.20" y="282.90" font-size="9.9">sg1</text>
<text x="220.1" y="127.1" font-size="16" style="font-family:&quot;Liberation Serif&quot;,serif;stroke-width:0.2px">I<tspan font-size="9" dy="2.6">-</tspan></text>
<text x="81.0" y="280.8" font-size="16" style="font-family:&quot;Liberation Serif&quot;,serif;stroke-width:0.2px">I<tspan font-size="9.5" dy="3.4">+</tspan></text>
</svg></body></html>
